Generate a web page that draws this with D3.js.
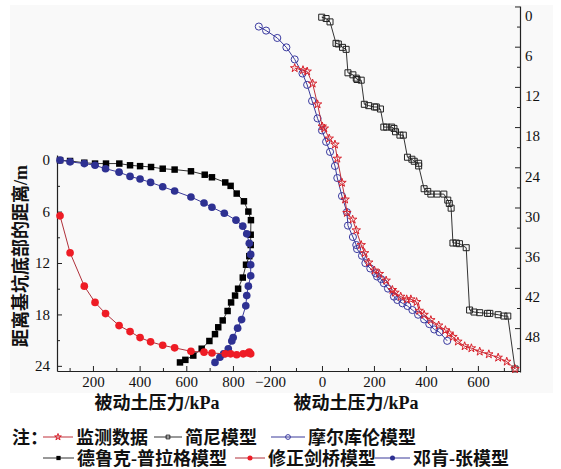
<!DOCTYPE html>
<html>
<head>
<meta charset="utf-8">
<script src="https://cdn.jsdelivr.net/npm/d3@7"></script>
<style>
  body { margin: 0; background: #fff; }
  .tick text { font-family: "Liberation Serif", serif; font-size: 15px; fill: #111; }
  .cn { font-family: "Liberation Serif", "Noto Sans CJK SC", sans-serif; font-weight: bold; fill: #111; }
</style>
</head>
<body>
<div id="chart"></div>
<script>
// left panel: [pressure kPa, depth m]
const dpData = [[59,0],[102,0.1],[163,0.3],[209,0.4],[256,0.4],[313,0.4],[359,0.6],[402,0.7],[449,0.8],[499,1.0],
  [550,1.1],[620,1.3],[679,1.7],[710,2.0],[767,2.6],[790,3.0],[816,3.9],[847,4.8],[866,6.0],[877,7.0],[876,8.7],
  [876,9.9],[870,11.2],[856,12.2],[842,13.7],[822,15.0],[809,15.8],[792,16.6],[777,17.6],[756,18.7],[737,19.5],
  [723,20.3],[699,21.1],[666,22.0],[630,22.8],[596,23.3],[573,23.6]];
const dzData = [[59,0],[102,0.2],[163,0.4],[209,0.6],[254,1.0],[312,1.4],[359,1.9],[402,2.2],[447,2.6],[499,3.1],
  [550,3.6],[620,4.3],[676,5.0],[710,5.5],[763,6.2],[813,7.0],[842,7.7],[859,8.6],[870,9.7],[876,11.0],[876,12.2],
  [876,13.5],[866,14.7],[859,15.8],[855,17.0],[837,18.6],[820,19.6],[801,20.7],[795,21.1],[780,22.0],[760,22.6],
  [744,23.0],[723,23.6]];
const mccData = [[59,6.5],[102,10.8],[163,14.7],[209,16.6],[254,17.9],[312,19.3],[359,20.0],[402,20.7],[447,21.2],
  [499,21.6],[550,21.9],[620,22.3],[676,22.4],[710,22.5],[767,22.6],[790,22.6],[816,22.7],[844,22.6],[865,22.5],
  [870,22.4],[876,22.6]];

// right panel: [pressure kPa, depth m]
const janbuData = [[-1,1.6],[16,1.8],[31,2.3],[54,5.5],[63,5.6],[79,6.1],[93,6.4],[100,9.9],[119,10.2],[132,10.7],
  [135,10.9],[151,11.0],[163,14.6],[180,14.8],[202,15.0],[209,15.0],[225,15.3],[238,18.0],[249,18.0],[268,18.0],
  [277,18.2],[283,18.7],[300,19.2],[313,19.2],[329,22.5],[346,22.8],[355,23.1],[372,23.4],[372,23.8],[393,27.2],
  [407,27.6],[419,28.0],[443,28.0],[469,28.0],[484,28.9],[490,29.4],[497,30.1],[504,35.3],[517,35.3],[529,35.4],
  [555,36.0],[568,45.3],[585,45.6],[607,45.7],[637,45.8],[646,45.8],[678,46.0],[700,46.2],[715,46.2],[743,54.1]];
const mcData = [[-243,3.0],[-215,3.6],[-172,4.7],[-137,6.1],[-105,7.9],[-75,10.0],[-57,11.7],[-38,14.1],[-17,16.7],
  [0,18.5],[16,20.2],[31,21.7],[50,23.8],[59,25.6],[77,28.3],[96,30.7],[100,32.7],[119,34.4],[132,35.6],[135,36.2],
  [154,37.2],[167,38.3],[186,39.1],[206,39.8],[212,40.3],[228,40.7],[238,41.3],[254,42.1],[277,43.3],[290,43.8],
  [310,44.3],[329,44.7],[348,45.3],[370,46.0],[393,46.7],[413,47.4],[432,48.2],[452,48.6],[482,49.9]];
const monitorData = [[-105,9.2],[-73,9.5],[-57,9.7],[-36,11.5],[-17,14.6],[1,17.9],[9,18.2],[28,19.7],[50,20.6],
  [59,22.7],[77,26.3],[89,28.8],[96,30.8],[118,31.8],[132,33.4],[151,35.6],[164,36.8],[180,38.2],[202,39.4],
  [221,39.9],[247,40.9],[271,42.3],[281,42.7],[303,43.3],[326,43.7],[342,43.7],[364,44.1],[374,45.4],[393,46.0],
  [419,46.8],[449,47.6],[475,48.3],[490,48.8],[504,49.3],[523,50.0],[549,50.7],[575,51.0],[607,51.5],[642,51.9],
  [678,52.4],[711,53.0],[743,54.1]];

const leftTicksX = [200, 400, 600, 800];
const leftMinorX = [100, 300, 500, 700];
const leftTicksY = [0, 6, 12, 18, 24];
const leftMinorY = [3, 9, 15, 21];
const rightTicksX = [-200, 0, 200, 400, 600];
const rightMinorX = [-100, 100, 300, 500, 700];
const rightTicksY = [0, 6, 12, 18, 24, 30, 36, 42, 48];
const rightMinorY = [3, 9, 15, 21, 27, 33, 39, 45, 51];

const xTitle = "被动土压力/kPa";
const yTitle = "距离基坑底部的距离/m";

const width = 561, height = 469;
const svg = d3.select("#chart").append("svg")
  .attr("width", width).attr("height", height);

svg.append("rect").attr("x", 10).attr("y", 5).attr("width", 543).attr("height", 388)
  .attr("fill", "#f9f9f9");

// SCALES
const xL = d3.scaleLinear().domain([46, 903]).range([57, 257]);
const yL = d3.scaleLinear().domain([-0.6, 24.6]).range([155, 371]);
const xR = d3.scaleLinear().domain([-250, 762]).range([257, 520]);
const yR = d3.scaleLinear().domain([-0.07, 54.55]).range([6, 372]);

function styleAxis(g) {
  g.select(".domain").attr("stroke", "#222").attr("stroke-width", 1.2);
  g.selectAll(".tick line").attr("stroke", "#222").attr("stroke-width", 1);
}
function minorTicks(g, axisFn, scale, vals) {
  g.append("g").call(axisFn(scale).tickValues(vals).tickSize(-3).tickFormat(""))
    .call(a => a.select(".domain").remove())
    .selectAll("line").attr("stroke", "#222");
}

// AXES left panel
const axLB = svg.append("g").attr("transform", "translate(0,371)");
axLB.call(d3.axisBottom(xL).tickValues(leftTicksX).tickSizeInner(-5).tickSizeOuter(0).tickPadding(5)).call(styleAxis);
minorTicks(axLB, d3.axisBottom, xL, leftMinorX);

const axLL = svg.append("g").attr("transform", "translate(57,0)");
axLL.call(d3.axisLeft(yL).tickValues(leftTicksY).tickSizeInner(-5).tickSizeOuter(0).tickPadding(7)).call(styleAxis);
minorTicks(axLL, d3.axisLeft, yL, leftMinorY);

// AXES right panel
const axRB = svg.append("g").attr("transform", "translate(0,371)");
axRB.call(d3.axisBottom(xR).tickValues(rightTicksX).tickSizeInner(-5).tickSizeOuter(0).tickPadding(5)).call(styleAxis);
minorTicks(axRB, d3.axisBottom, xR, rightMinorX);

const axRR = svg.append("g").attr("transform", "translate(520,0)");
axRR.call(d3.axisRight(yR).tickValues(rightTicksY).tickSizeInner(-5).tickSizeOuter(0).tickPadding(5)).call(styleAxis);
axRR.selectAll(".tick text").attr("transform", "translate(0,9)");
minorTicks(axRR, d3.axisRight, yR, rightMinorY);

// SERIES
function drawSeries(data, xs, ys, opt) {
  const line = d3.line().x(d => xs(d[0])).y(d => ys(d[1]));
  svg.append("path").datum(data).attr("d", line)
    .attr("fill", "none").attr("stroke", opt.line).attr("stroke-width", 1);
  svg.append("g").selectAll("path").data(data).join("path")
    .attr("transform", d => `translate(${xs(d[0])},${ys(d[1])})`)
    .attr("d", d3.symbol().type(opt.type).size(opt.size))
    .attr("fill", opt.fill).attr("stroke", opt.stroke).attr("stroke-width", opt.sw || 1);
}

drawSeries(dpData, xL, yL, { type: d3.symbolSquare, size: 42, line: "#333", fill: "#000", stroke: "none" });
drawSeries(dzData, xL, yL, { type: d3.symbolCircle, size: 46, line: "#3a3a9a", fill: "#2e3192", stroke: "none" });
drawSeries(mccData, xL, yL, { type: d3.symbolCircle, size: 46, line: "#b0303a", fill: "#ee1c25", stroke: "none" });

drawSeries(janbuData, xR, yR, { type: d3.symbolSquare, size: 36, line: "#333", fill: "none", stroke: "#222" });
drawSeries(mcData, xR, yR, { type: d3.symbolCircle, size: 40, line: "#3a3a9a", fill: "none", stroke: "#3a3aa0" });
drawSeries(monitorData, xR, yR, { type: d3.symbolStar, size: 22, line: "#c0303a", fill: "none", stroke: "#d8202a" });

// AXIS TITLES
svg.append("text").attr("class", "cn").attr("x", 157).attr("y", 409)
  .attr("text-anchor", "middle").style("font-size", "18px").text(xTitle);
svg.append("text").attr("class", "cn").attr("x", 356).attr("y", 409)
  .attr("text-anchor", "middle").style("font-size", "18px").text(xTitle);
svg.append("text").attr("class", "cn")
  .attr("transform", "translate(27,256) rotate(-90)")
  .attr("text-anchor", "middle").style("font-size", "18px").text(yTitle);

// LEGEND
const legendItems = [
  { label: "监测数据", x: 43, y: 437, w: 30, type: d3.symbolStar, size: 14, line: "#c0303a", fill: "none", stroke: "#d8202a" },
  { label: "简尼模型", x: 154, y: 437, w: 28, type: d3.symbolSquare, size: 14, line: "#333", fill: "none", stroke: "#222" },
  { label: "摩尔库伦模型", x: 271, y: 437, w: 34, type: d3.symbolCircle, size: 18, line: "#3a3a9a", fill: "none", stroke: "#3a3aa0" },
  { label: "德鲁克-普拉格模型", x: 43, y: 458, w: 31, type: d3.symbolSquare, size: 18, line: "#333", fill: "#000", stroke: "none" },
  { label: "修正剑桥模型", x: 235, y: 458, w: 30, type: d3.symbolCircle, size: 20, line: "#b0303a", fill: "#ee1c25", stroke: "none" },
  { label: "邓肯-张模型", x: 375, y: 458, w: 35, type: d3.symbolCircle, size: 20, line: "#3a3a9a", fill: "#2e3192", stroke: "none" }
];

svg.append("text").attr("class", "cn").attr("x", 12).attr("y", 444)
  .style("font-size", "18px").text("注：");

const lg = svg.append("g").selectAll("g").data(legendItems).join("g")
  .attr("transform", d => `translate(${d.x},${d.y})`);
lg.append("line").attr("x1", 0).attr("x2", d => d.w).attr("y1", 0).attr("y2", 0)
  .attr("stroke", d => d.line).attr("stroke-width", 1);
lg.append("path").attr("transform", d => `translate(${d.w / 2},0)`)
  .attr("d", d => d3.symbol().type(d.type).size(d.size)())
  .attr("fill", d => d.fill).attr("stroke", d => d.stroke);
lg.append("text").attr("class", "cn").attr("x", d => d.w + 3).attr("y", 7)
  .style("font-size", "18px").text(d => d.label);
</script>
</body>
</html>
